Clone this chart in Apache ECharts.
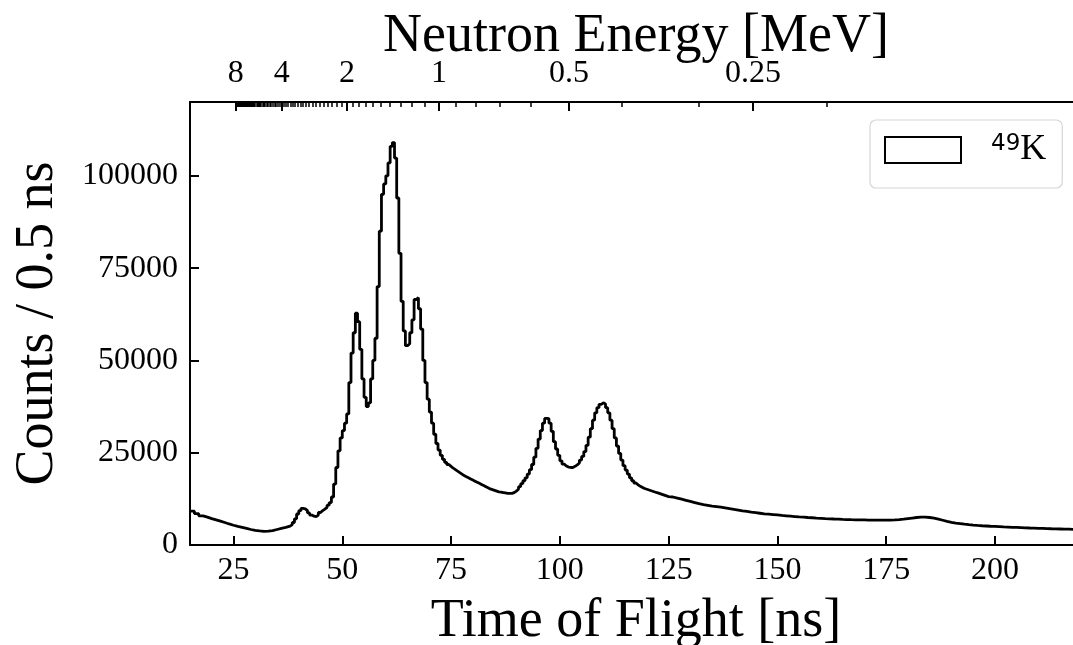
<!DOCTYPE html>
<html>
<head>
<meta charset="utf-8">
<script src="https://cdn.jsdelivr.net/npm/echarts@6/dist/echarts.min.js"></script>
<style>
  html, body { margin: 0; padding: 0; background: #fff; }
  #chart { width: 1073px; height: 645px; }
</style>
</head>
<body>
<div id="chart"></div>
<script>
// ---- Data ----
// Histogram segments: left bin edge of first bin, bin width [ns], counts per bin
const segAStart = 15, segAWidth = 1;
const segACounts = [
  9200, 8500, 7900, 7550, 7150, 6800, 6450, 6100, 5700, 5350,
  5050, 4800, 4500, 4200, 3950, 3800, 3700, 3750, 3900, 4200,
  4500, 4750, 5100
];
const segBStart = 38, segBWidth = 0.5;
const segBCounts = [
  5500, 6100, 7100, 8400, 9300, 9900, 9800, 9300, 8700, 8100,
  7800, 7700, 8100, 8800, 9300, 9700, 10200, 10800, 11500, 13000,
  16500, 21000, 25500, 29000, 31000, 33000, 35500, 44000, 52000, 57500,
  62800, 60500, 53000, 45000, 40000, 37500, 38500, 45000, 50000, 56000,
  70000, 85000, 95000, 97800, 100000, 103500, 108000, 109000, 104800, 94000,
  79000, 66000, 58000, 54000, 54500, 57500, 61000, 66500, 67000, 64000,
  58500, 50000, 44000, 39500, 36000, 33000, 30000, 27500, 25700, 24300,
  23200, 22400, 21800, 21300, 20800, 20400, 20000, 19600, 19200, 18800,
  18500, 18200, 17900, 17600, 17300, 17000, 16700, 16400, 16100, 15800,
  15500, 15200, 15000, 14800, 14600, 14400, 14300, 14200, 14100, 14000,
  14000, 14000, 14200, 14600, 15100, 15800, 16600, 17400, 18200, 19200,
  20400, 21800, 23800, 26200, 28700, 31000, 33000, 34300, 34200, 33000,
  30800, 28000, 26000, 24300, 22800, 21900, 21400, 21100, 21000, 21000,
  21300, 21700, 22200, 23000, 24000, 25300, 27000, 29200, 31500, 33800,
  35800, 37200, 38100, 38500, 38200, 37200, 35800, 33800, 31500, 29000,
  26800, 24800, 23000, 21500, 20300, 19200, 18200, 17400, 16800, 16300,
  15900, 15600, 15300, 15100, 14900, 14700, 14500, 14300, 14100, 13900,
  13700, 13500, 13300, 13100
];
const segCStart = 125, segCWidth = 1;
const segCCounts = [
  13000, 12700, 12400, 12100, 11800, 11500, 11200, 10950, 10750, 10550,
  10400, 10250, 10050, 9850, 9650, 9450, 9250, 9100, 8900, 8750,
  8600, 8450, 8350, 8250, 8150, 8000, 7900, 7800, 7700, 7600,
  7550, 7450, 7380, 7300, 7230, 7160, 7100, 7040, 6990, 6940,
  6900, 6860, 6830, 6800, 6780, 6760, 6750, 6740, 6740, 6750,
  6760, 6800, 6880, 7000, 7150, 7300, 7450, 7550, 7550, 7450,
  7250, 7000, 6700, 6400, 6150, 5950, 5800, 5650, 5520, 5400,
  5300, 5220, 5150, 5080, 5020, 4960, 4900, 4850, 4800, 4750,
  4700, 4650, 4600, 4560, 4520, 4480, 4440, 4400, 4370, 4340,
  4310, 4280, 4250, 4230, 4200
];

const seriesName = '49K';
const xTicks = [25, 50, 75, 100, 125, 150, 175, 200];
const yTicks = [0, 25000, 50000, 75000, 100000];
const xRange = [15, 220];
const yRange = [0, 120000];

// Energy axis: TOF (ns) = tofAt1MeV / sqrt(E [MeV])
const tofAt1MeV = 72.2;
const energyMajor = [8, 4, 2, 1, 0.5, 0.25];
const energyMinorFrom = 0.2, energyMinorTo = 8.0, energyMinorStep = 0.1;

// ---- Build ----
function segPoints(start, width, counts) {
  return counts.map((c, i) => [start + i * width, c]);
}
const histData = []
  .concat(segPoints(segAStart, segAWidth, segACounts))
  .concat(segPoints(segBStart, segBWidth, segBCounts))
  .concat(segPoints(segCStart, segCWidth, segCCounts));
const lastStart = segCStart + (segCCounts.length - 1) * segCWidth;
histData.push([lastStart + segCWidth, segCCounts[segCCounts.length - 1]]);

const eToT = e => tofAt1MeV / Math.sqrt(e);
const majorT = energyMajor.map(eToT);
const minorT = [];
for (let k = Math.round(energyMinorFrom / energyMinorStep); k <= Math.round(energyMinorTo / energyMinorStep); k++) {
  const e = k * energyMinorStep;
  if (energyMajor.some(m => Math.abs(m - e) < 1e-6)) continue;
  minorT.push(eToT(e));
}
function energyLabel(t) {
  let best = 0, bd = Infinity;
  majorT.forEach((mt, i) => { const d = Math.abs(mt - t); if (d < bd) { bd = d; best = i; } });
  return String(energyMajor[best]);
}

const SERIF = '"Liberation Serif", "DejaVu Serif", serif';
const tickFont = 32;
const titleFont = 54;
const gridRect = { left: 190, top: 102, right: -9, bottom: 100, containLabel: false, outerBoundsMode: 'none' };
const spine = { show: true, onZero: false, lineStyle: { color: '#000', width: 2 } };

const chart = echarts.init(document.getElementById('chart'), null, { renderer: 'canvas' });
chart.setOption({
  animation: false,
  backgroundColor: '#ffffff',
  grid: [Object.assign({}, gridRect), Object.assign({}, gridRect)],
  legend: {
    left: 870, top: 120,
    padding: [12, 16, 20, 14],
    backgroundColor: 'rgba(255,255,255,0.8)',
    borderColor: '#d6d6d6', borderWidth: 1.2, borderRadius: 6,
    itemWidth: 76, itemHeight: 26,
    data: [{ name: seriesName, icon: 'rect' }],
    itemStyle: { color: '#ffffff', borderColor: '#000000', borderWidth: 2 },
    formatter: () => '{sup|49}{k|K}',
    textStyle: {
      rich: {
        sup: { fontFamily: '"DejaVu Sans", sans-serif', fontSize: 23, color: '#000', verticalAlign: 'top', lineHeight: 34, padding: [0, 0, 10, 25] },
        k: { fontFamily: SERIF, fontSize: 36, color: '#000', lineHeight: 34 }
      }
    }
  },
  xAxis: [
    {
      gridIndex: 0,
      type: 'value', position: 'bottom', min: xRange[0], max: xRange[1],
      name: 'Time of Flight [ns]', nameLocation: 'middle', nameGap: 50,
      nameTextStyle: { fontFamily: SERIF, fontSize: titleFont, color: '#000' },
      axisLine: spine,
      axisTick: { show: true, inside: true, length: 9, customValues: xTicks, lineStyle: { color: '#000', width: 2 } },
      axisLabel: { show: true, customValues: xTicks, margin: 10, fontFamily: SERIF, fontSize: tickFont, color: '#000' },
      splitLine: { show: false }
    },
    {
      gridIndex: 0,
      type: 'value', position: 'top', min: xRange[0], max: xRange[1],
      name: 'Neutron Energy [MeV]', nameLocation: 'middle', nameGap: 38, nameMoveOverlap: false,
      nameTextStyle: { fontFamily: SERIF, fontSize: titleFont, color: '#000' },
      axisLine: spine,
      axisTick: { show: true, inside: true, length: 9, customValues: majorT, lineStyle: { color: '#000', width: 2 } },
      axisLabel: { show: true, customValues: majorT, margin: 12, fontFamily: SERIF, fontSize: tickFont, color: '#000', formatter: v => energyLabel(v) },
      splitLine: { show: false }
    },
    {
      gridIndex: 1,
      type: 'value', position: 'top', min: xRange[0], max: xRange[1],
      axisLine: { show: false, onZero: false },
      axisTick: { show: true, inside: true, length: 5, customValues: minorT, lineStyle: { color: '#000', width: 1.5 } },
      axisLabel: { show: false },
      splitLine: { show: false }
    }
  ],
  yAxis: [
    {
      gridIndex: 0,
      type: 'value', position: 'left', min: yRange[0], max: yRange[1],
      name: 'Counts / 0.5 ns', nameLocation: 'middle', nameGap: 125,
      nameTextStyle: { fontFamily: SERIF, fontSize: titleFont, color: '#000' },
      axisLine: spine,
      axisTick: { show: true, inside: true, length: 9, customValues: yTicks, lineStyle: { color: '#000', width: 2 } },
      axisLabel: { show: true, customValues: yTicks, margin: 12, fontFamily: SERIF, fontSize: tickFont, color: '#000', formatter: v => String(v) },
      splitLine: { show: false }
    },
    {
      gridIndex: 0,
      type: 'value', position: 'right', min: yRange[0], max: yRange[1],
      axisLine: spine,
      axisTick: { show: true, inside: true, length: 9, customValues: yTicks, lineStyle: { color: '#000', width: 2 } },
      axisLabel: { show: false },
      splitLine: { show: false }
    },
    {
      gridIndex: 1,
      type: 'value', min: yRange[0], max: yRange[1], show: false
    }
  ],
  series: [{
    name: seriesName,
    type: 'line',
    xAxisIndex: 0, yAxisIndex: 0,
    step: 'end',
    showSymbol: false,
    symbol: 'none',
    clip: true,
    lineStyle: { color: '#000', width: 2.8 },
    itemStyle: { color: '#000' },
    data: histData
  }]
});
</script>
</body>
</html>
